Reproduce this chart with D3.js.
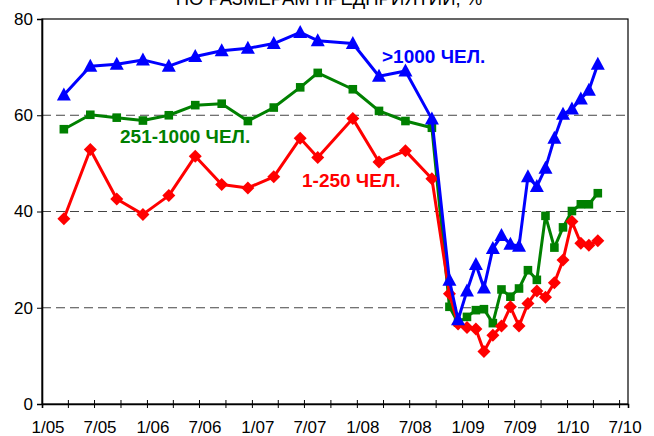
<!DOCTYPE html>
<html>
<head>
<meta charset="utf-8">
<script src="https://cdn.jsdelivr.net/npm/d3@7"></script>
<style>
  body { margin: 0; background: #fff; }
  svg text { font-family: "Liberation Sans", Arial, sans-serif; }
</style>
</head>
<body>
<div id="chart"></div>
<script>
const width = 654;
const height = 436;

// survey dates (quarterly, then monthly from 11/08)
const dates = [
    "2005-03-18", "2005-06-18", "2005-09-18", "2005-12-18",
    "2006-03-18", "2006-06-18", "2006-09-18", "2006-12-18",
    "2007-03-18", "2007-06-18", "2007-08-18", "2007-12-18",
    "2008-03-18", "2008-06-18", "2008-09-18",
    "2008-11-18", "2008-12-18",
    "2009-01-18", "2009-02-18", "2009-03-18", "2009-04-18", "2009-05-18", "2009-06-18",
    "2009-07-18", "2009-08-18", "2009-09-18", "2009-10-18", "2009-11-18", "2009-12-18",
    "2010-01-18", "2010-02-18", "2010-03-18", "2010-04-18"
];

const small = [   // 1-250 чел.
    38.5, 52.9, 42.6, 39.4, 43.3, 51.5, 45.6, 44.9, 47.2, 55.2, 51.2, 59.3, 50.3, 52.6, 46.8,
    22.9, 16.6, 15.9, 15.6, 10.9, 14.3, 16.2, 20.2, 16.2, 20.9, 23.5, 22.2, 25.2, 29.9,
    37.9, 33.4, 33.0, 33.9
];
const medium = [  // 251-1000 чел.
    57.1, 60.1, 59.5, 58.9, 60.0, 62.1, 62.4, 58.8, 61.6, 65.8, 68.8, 65.4, 60.9, 58.8, 57.4,
    20.2, 16.9, 18.1, 19.5, 19.7, 16.8, 23.8, 22.3, 24.0, 27.8, 25.8, 39.1, 32.5, 36.7,
    40.1, 41.5, 41.5, 43.8
];
const large = [   // >1000 чел.
    64.2, 70.2, 70.6, 71.5, 70.2, 72.2, 73.4, 73.9, 74.9, 77.2, 75.5, 74.9, 68.1, 69.2, 59.2,
    25.7, 17.5, 23.5, 29.0, 24.1, 32.3, 35.0, 33.2, 32.8, 47.2, 45.2, 49.0, 55.2, 60.2,
    61.3, 63.4, 65.2, 70.6
];

const yTicks = [0, 20, 40, 60, 80];
const xTickLabels = ["1/05", "7/05", "1/06", "7/06", "1/07", "7/07", "1/08", "7/08", "1/09", "7/09", "1/10", "7/10"];

const parse = d3.timeParse("%Y-%m-%d");
const dt = dates.map(parse);

const svg = d3.select("#chart").append("svg")
    .attr("width", width)
    .attr("height", height);

const x = d3.scaleTime()
    .domain([new Date(2005, 0, 1), new Date(2010, 7, 1)])
    .range([42, 628]);
const y = d3.scaleLinear()
    .domain([0, 80])
    .range([404, 19]);

// title (cut off at the top edge, as in the source picture)
svg.append("text")
    .attr("x", 329).attr("y", 4.5)
    .attr("text-anchor", "middle")
    .attr("font-size", 18.5)
    .text("ПО РАЗМЕРАМ ПРЕДПРИЯТИЙ, %");

// gridlines
svg.append("g").selectAll("line")
    .data(yTicks.filter(d => d > 0 && d < 80))
    .enter().append("line")
    .attr("x1", 42).attr("x2", 628)
    .attr("y1", d => y(d)).attr("y2", d => y(d))
    .attr("stroke", "#444")
    .attr("stroke-dasharray", "9,5");

// plot frame
svg.append("rect")
    .attr("x", 42).attr("y", 19)
    .attr("width", 586).attr("height", 385)
    .attr("fill", "none")
    .attr("stroke", "#000")
    .attr("stroke-width", 1.2);

// y axis
const yAxis = svg.append("g")
    .attr("transform", "translate(42,0)")
    .call(d3.axisLeft(y).tickValues(yTicks).tickSize(5).tickPadding(4));
yAxis.select(".domain").attr("stroke-width", 1.6);
yAxis.selectAll("text").attr("font-size", 17).attr("fill", "#000")
    .style("font-family", "'Liberation Sans', Arial, sans-serif");

// x axis: quarterly ticks crossing the line, labels every half year
const qTicks = d3.timeMonth.every(3).range(new Date(2005, 0, 1), new Date(2010, 7, 1));
const xAxis = svg.append("g")
    .attr("transform", "translate(0,404)")
    .call(d3.axisBottom(x).tickValues(qTicks).tickSize(4).tickFormat(""));
xAxis.select(".domain").attr("stroke-width", 1.6);
xAxis.selectAll(".tick line").attr("y1", -4).attr("y2", 4);

const halfYears = d3.timeMonth.every(6).range(new Date(2005, 0, 1), new Date(2010, 7, 1));
svg.append("g").selectAll("text")
    .data(halfYears)
    .enter().append("text")
    .attr("x", d => x(d) + 6)
    .attr("y", 433)
    .attr("text-anchor", "middle")
    .attr("font-size", 17)
    .text((d, i) => xTickLabels[i]);

const line = d3.line()
    .x((d, i) => x(dt[i]))
    .y(d => y(d));

function drawSeries(values, color, marker) {
    const g = svg.append("g");
    g.append("path")
        .datum(values)
        .attr("fill", "none")
        .attr("stroke", color)
        .attr("stroke-width", 3)
        .attr("stroke-linejoin", "round")
        .attr("d", line);
    g.selectAll("path.m")
        .data(values)
        .enter().append("path")
        .attr("class", "m")
        .attr("transform", (d, i) => `translate(${x(dt[i])},${y(d)})`)
        .attr("fill", color)
        .attr("d", marker);
}

const square = "M-4.3,-4.3H4.3V4.3H-4.3Z";
const diamond = "M0,-6.5L6.5,0L0,6.5L-6.5,0Z";
const triangle = "M0,-7.5L7,5.5L-7,5.5Z";

drawSeries(medium, "#008000", square);
drawSeries(small, "#ff0000", diamond);
drawSeries(large, "#0000ff", triangle);

// series labels
const labels = [
    { text: ">1000 ЧЕЛ.", x: 382, y: 63, color: "#0000ff" },
    { text: "251-1000 ЧЕЛ.", x: 120, y: 143, color: "#008000" },
    { text: "1-250 ЧЕЛ.", x: 302, y: 187, color: "#ff0000" }
];
svg.append("g").selectAll("text")
    .data(labels)
    .enter().append("text")
    .attr("x", d => d.x).attr("y", d => d.y)
    .attr("fill", d => d.color)
    .attr("font-size", 19)
    .attr("font-weight", "bold")
    .text(d => d.text);
</script>
</body>
</html>
